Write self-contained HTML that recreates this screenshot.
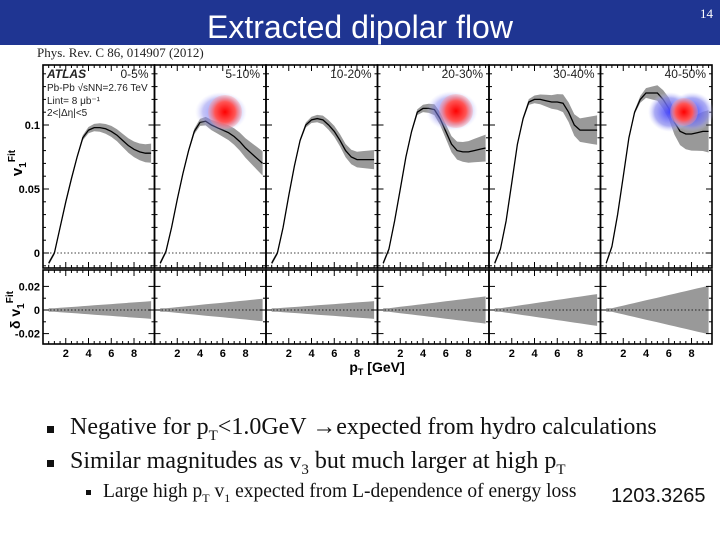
<!DOCTYPE html>
<html><head><meta charset="utf-8">
<style>
body{margin:0;width:720px;height:540px;overflow:hidden;background:#fff;position:relative;font-family:"Liberation Sans",sans-serif}
#hdr{position:absolute;left:0;top:0;width:720px;height:45px;background:#1f3592}
#title{position:absolute;left:0;width:720px;top:9px;text-align:center;color:#fff;font-size:32px;line-height:36px}
#pg{position:absolute;right:7px;top:6px;color:#fff;font-family:"Liberation Serif",serif;font-size:13px}
#ref{position:absolute;left:37px;top:45px;font-family:"Liberation Serif",serif;font-size:13px;color:#222}
.b{position:absolute;font-family:"Liberation Serif",serif;color:#111;white-space:nowrap}
.sq{position:absolute;width:7px;height:7px;background:#111}
svg{position:absolute;left:0;top:0}
</style></head><body>
<div id="hdr"></div>
<div id="title">Extracted dipolar flow</div>
<div id="pg">14</div>
<div id="ref">Phys. Rev. C 86, 014907 (2012)</div>
<svg id="ch" width="720" height="400"></svg>
<div class="sq" style="left:47px;top:426px"></div>
<div class="b" style="left:70px;top:412px;font-size:24px;line-height:30px">Negative for p<sub style="font-size:15px">T</sub>&lt;1.0GeV &#8594;expected from hydro calculations</div>
<div class="sq" style="left:47px;top:460px"></div>
<div class="b" style="left:70px;top:446px;font-size:24px;line-height:30px">Similar magnitudes as v<sub style="font-size:15px">3</sub> but much larger at high p<sub style="font-size:15px">T</sub></div>
<div class="sq" style="left:86px;top:490px;width:5px;height:5px"></div>
<div class="b" style="left:103px;top:480px;font-size:19.5px;line-height:24px">Large high p<sub style="font-size:12px">T</sub> v<sub style="font-size:12px">1</sub> expected from L-dependence of energy loss</div>
<div class="b" style="left:611px;top:485px;font-size:20px;font-family:'Liberation Sans',sans-serif">1203.3265</div>
<script>
const pts=[0.5,1,1.5,2,2.5,3,3.5,4,4.5,5,5.5,6,6.5,7,7.5,8,8.5,9,9.5];
const labels=["0-5%","5-10%","10-20%","20-30%","30-40%","40-50%"];
const v0=[-0.008,0,0.02,0.04,0.058,0.075,0.09,0.096,0.098,0.098,0.097,0.095,0.092,0.088,0.084,0.081,0.079,0.078,0.078];
const v1=[-0.008,0.001,0.02,0.042,0.062,0.08,0.095,0.102,0.103,0.1,0.098,0.096,0.094,0.091,0.087,0.082,0.078,0.074,0.07];
const v2=[-0.008,0,0.02,0.045,0.068,0.088,0.1,0.104,0.105,0.104,0.1,0.095,0.088,0.08,0.075,0.073,0.073,0.073,0.073];
const v3=[-0.008,0.003,0.025,0.05,0.075,0.095,0.11,0.113,0.113,0.112,0.105,0.095,0.085,0.08,0.079,0.079,0.08,0.081,0.082];
const v4=[-0.008,0.003,0.025,0.055,0.085,0.105,0.118,0.12,0.12,0.119,0.118,0.118,0.117,0.11,0.1,0.096,0.096,0.096,0.096];
const v5=[-0.008,0.005,0.03,0.06,0.09,0.11,0.12,0.125,0.125,0.125,0.12,0.113,0.102,0.095,0.093,0.093,0.094,0.095,0.095];
const series=[v0,v1,v2,v3,v4,v5];
const errMax=[0.006,0.008,0.006,0.009,0.01,0.015];
const resMax=[0.006,0.008,0.006,0.01,0.012,0.019];
const yTicks=[0,0.05,0.1];const yTickLabels=["0","0.05","0.1"];
const rTicks=[-0.02,0,0.02];const rTickLabels=["-0.02","0","0.02"];
const xTicks=[2,4,6,8];
const svg=document.getElementById('ch');const NS="http://www.w3.org/2000/svg";
function el(t,a,p){const e=document.createElementNS(NS,t);for(const k in a)e.setAttribute(k,a[k]);(p||svg).appendChild(e);return e;}
const PL=43,PW=111.5,TOP=65,MID=268,BOT=344;
const xs=(i,x)=>PL+i*PW+x/9.8*PW;
const ys=v=>253-v*1280;
const yr=v=>310-v*1180;
function band(i,f,lo,hi,g){let d="";pts.forEach((x,k)=>{d+=(k?"L":"M")+xs(i,x).toFixed(1)+","+f(hi(k)).toFixed(1);});
 for(let k=pts.length-1;k>=0;k--)d+="L"+xs(i,pts[k]).toFixed(1)+","+f(lo(k)).toFixed(1);return el('path',{d:d+"Z",fill:"#999"},g);}
const grad=el('defs',{});
grad.innerHTML='<radialGradient id="rg"><stop offset="0" stop-color="#f00"/><stop offset="0.6" stop-color="#f55"/><stop offset="1" stop-color="#f99" stop-opacity="0.3"/></radialGradient><radialGradient id="bg"><stop offset="0" stop-color="#44f"/><stop offset="0.7" stop-color="#88e" stop-opacity="0.7"/><stop offset="1" stop-color="#ccf" stop-opacity="0"/></radialGradient>';
series.forEach((s,i)=>{
 const g=el('g',{});
 
 
 const e=k=>0.0015+errMax[i]*Math.max(0,(pts[k]-3))/6.5;
 const band1=band(i,ys,k=>s[k]-e(k),k=>s[k]+e(k),g);
 
 const r=k=>0.0015+resMax[i]*Math.max(0,pts[k]-1)/8.5;
 const band2=band(i,yr,k=>-r(k),k=>r(k),g);
 
 let d="";pts.forEach((x,k)=>{d+=(k?"L":"M")+xs(i,x).toFixed(1)+","+ys(s[k]).toFixed(1);});
 const ln=el('path',{d:d,fill:"none",stroke:"#000","stroke-width":1.3},g);
 
 const x0=PL+i*PW,x1=x0+PW;
 el('line',{x1:x0,x2:x1,y1:ys(0),y2:ys(0),stroke:"#000","stroke-dasharray":"1.5,2","stroke-width":0.8},g);
 el('line',{x1:x0,x2:x1,y1:yr(0),y2:yr(0),stroke:"#000","stroke-dasharray":"1.5,2","stroke-width":0.8},g);
 for(let x=0.5;x<9.8;x+=0.5){const big=x%2===0,len=big?6:3;const X=xs(i,x);
  el('line',{x1:X,x2:X,y1:TOP,y2:TOP+len,stroke:"#000"},g);el('line',{x1:X,x2:X,y1:MID,y2:MID-len,stroke:"#000"},g);
  el('line',{x1:X,x2:X,y1:MID+2,y2:MID+2+len,stroke:"#000"},g);el('line',{x1:X,x2:X,y1:BOT,y2:BOT-len,stroke:"#000"},g);}
 for(let v=-0.01;v<0.15;v+=0.01){const Y=ys(v),big=Math.abs(v*20-Math.round(v*20))<1e-6,len=big?6:3;
  el('line',{x1:x0,x2:x0+len,y1:Y,y2:Y,stroke:"#000"},g);el('line',{x1:x1,x2:x1-len,y1:Y,y2:Y,stroke:"#000"},g);}
 for(let v=-0.02;v<=0.021;v+=0.01){const Y=yr(v),len=Math.abs(v)<0.015&&Math.abs(v)>0.005?3:6;
  el('line',{x1:x0,x2:x0+len,y1:Y,y2:Y,stroke:"#000"},g);el('line',{x1:x1,x2:x1-len,y1:Y,y2:Y,stroke:"#000"},g);}
 el('rect',{x:x0,y:TOP,width:PW,height:MID-TOP,fill:"none",stroke:"#000","stroke-width":1.6},g);
 el('rect',{x:x0,y:MID+2,width:PW,height:BOT-MID-2,fill:"none",stroke:"#000","stroke-width":1.6},g);
 const t=el('text',{x:x1-6,y:TOP+13,"text-anchor":"end","font-size":12,fill:"#222"},g);t.textContent=labels[i];
 
 xTicks.forEach(xv=>{const tt=el('text',{x:xs(i,xv),y:357,"text-anchor":"middle","font-size":11,"font-weight":"bold"},g);tt.textContent=xv;});
});
[[225,112,1],[456,111,1],[684,112,2]].forEach(([cx,cy,n],j)=>{
 const g=el('g',{});
 if(n==2){el('ellipse',{cx:cx-14,cy,rx:22,ry:20,fill:"url(#bg)"},g);el('ellipse',{cx:cx+8,cy,rx:22,ry:20,fill:"url(#bg)"},g);}
 else el('ellipse',{cx:cx-4,cy,rx:26,ry:20,fill:"url(#bg)",opacity:0.7},g);
 el('circle',{cx,cy,r:n==2?14:17,fill:"url(#rg)"},g);});
yTicks.forEach((v,k)=>{const t=el('text',{x:40,y:ys(v)+4,"text-anchor":"end","font-size":11,"font-weight":"bold"});t.textContent=yTickLabels[k];});
rTicks.forEach((v,k)=>{const t=el('text',{x:40,y:yr(v)+4,"text-anchor":"end","font-size":11,"font-weight":"bold"});t.textContent=rTickLabels[k];});
const yl=el('text',{transform:"translate(22,163) rotate(-90)","text-anchor":"middle","font-size":15,"font-weight":"bold"});yl.innerHTML='v<tspan font-size="10" dy="4">1</tspan><tspan font-size="10" dy="-11">Fit</tspan>';

const rl=el('text',{transform:"translate(20,310) rotate(-90)","text-anchor":"middle","font-size":14,"font-weight":"bold"});rl.innerHTML='δ v<tspan font-size="10" dy="4">1</tspan><tspan font-size="10" dy="-11">Fit</tspan>';

const xl=el('text',{x:377,y:372,"text-anchor":"middle","font-size":14,"font-weight":"bold"});xl.innerHTML='p<tspan font-size="9" dy="3">T</tspan><tspan dy="-3"> [GeV]</tspan>';

const info=[["ATLAS",78,"bold italic",12],["Pb-Pb √s_NN=2.76 TeV",91,"normal",10],["L_int= 8 μb⁻¹",104,"normal",10],["2<|Δη|<5",116,"normal",10]];
info.forEach(([s,y,w,f])=>{const t=el('text',{x:47,y,"font-size":f,"font-weight":w.includes('bold')?'bold':'normal',"font-style":w.includes('italic')?'italic':'normal',fill:"#222"});t.textContent=s.replace('_NN','NN').replace('_int','int');});
</script>
</body></html>
